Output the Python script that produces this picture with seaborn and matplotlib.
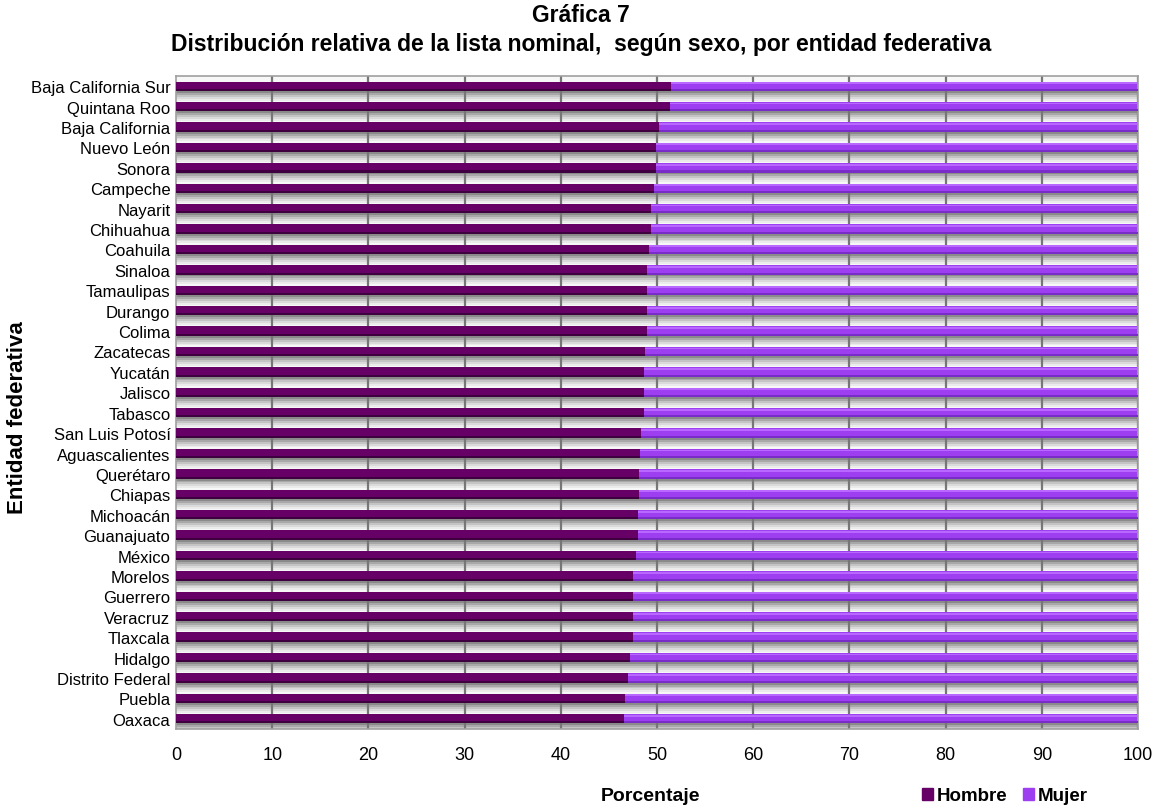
import numpy as np
import pandas as pd
import matplotlib
matplotlib.use("Agg")
import matplotlib.pyplot as plt
import seaborn as sns
from matplotlib.patches import Patch

# Data (percent of lista nominal)
entidades = [
    "Baja California Sur", "Quintana Roo", "Baja California", "Nuevo León",
    "Sonora", "Campeche", "Nayarit", "Chihuahua", "Coahuila", "Sinaloa",
    "Tamaulipas", "Durango", "Colima", "Zacatecas", "Yucatán", "Jalisco",
    "Tabasco", "San Luis Potosí", "Aguascalientes", "Querétaro", "Chiapas",
    "Michoacán", "Guanajuato", "México", "Morelos", "Guerrero", "Veracruz",
    "Tlaxcala", "Hidalgo", "Distrito Federal", "Puebla", "Oaxaca",
]
hombre = [
    51.5, 51.4, 50.2, 49.9, 49.9, 49.7, 49.4, 49.4, 49.2, 49.0,
    49.0, 49.0, 49.0, 48.8, 48.7, 48.7, 48.6, 48.3, 48.2, 48.1,
    48.1, 48.0, 48.0, 47.8, 47.5, 47.5, 47.5, 47.5, 47.2, 47.0,
    46.7, 46.6,
]
mujer = [round(100 - h, 1) for h in hombre]

color_hombre = "#660066"
color_mujer = "#9d3ff0"

df = pd.DataFrame({"Entidad": entidades, "Hombre": hombre, "Mujer": mujer})
df["Total"] = df["Hombre"] + df["Mujer"]

sns.set_theme(style="white")
plt.rcParams["font.family"] = ["Liberation Sans", "DejaVu Sans"]
plt.rcParams["text.color"] = "black"
plt.rcParams["xtick.color"] = "black"
plt.rcParams["ytick.color"] = "black"

fig = plt.figure(figsize=(11.62, 8.12), dpi=100)
ax = fig.add_axes([176 / 1162, 1 - 730 / 812, (1138 - 176) / 1162, (730 - 77) / 812])
ax.set_facecolor("#f7f7f7")

pos = np.arange(len(entidades))
bar_h = 0.46

# shadow band under each bar (3d effect of the original)
shades = ["#8a8a8a", "#a8a8a8", "#c4c4c4", "#dadada", "#ebebeb"]
step = 0.095
for i, c in enumerate(shades):
    ax.barh(pos + bar_h / 2 + step * (i + 0.5), df["Total"], height=step,
            color=c, zorder=1, linewidth=0)

# vertical gridlines
for v in range(10, 101, 10):
    ax.axvline(v, color="#767676", lw=1.6, zorder=1.5)

# stacked bars: total (Mujer on top of Hombre) then Hombre
sns.barplot(data=df, x="Total", y="Entidad", orient="h", color=color_mujer,
            width=bar_h, saturation=1, linewidth=0, ax=ax, zorder=2)
sns.barplot(data=df, x="Hombre", y="Entidad", orient="h", color=color_hombre,
            width=bar_h, saturation=1, linewidth=0, ax=ax, zorder=3)

# light top highlight / dark bottom edge on the bars
ax.barh(pos - bar_h / 2 + 0.08, df["Total"] - df["Hombre"], left=df["Hombre"],
        height=0.09, color="#b868ff", zorder=4, linewidth=0)
ax.barh(pos + bar_h / 2 - 0.05, df["Total"] - df["Hombre"], left=df["Hombre"],
        height=0.1, color="#7a2cc8", zorder=4, linewidth=0)
ax.barh(pos + bar_h / 2 - 0.05, df["Hombre"], height=0.1,
        color="#3e003e", zorder=4, linewidth=0)

ax.set_xlim(0, 100)
ax.set_ylim(len(entidades) - 0.5, -0.5)
ax.set_xticks(range(0, 101, 10))
ax.tick_params(axis="x", labelsize=13, pad=12, length=0)
ax.tick_params(axis="y", labelsize=12, pad=4, length=0)
ax.set_xlabel("")
ax.set_ylabel("")
for s in ax.spines.values():
    s.set_color("#a0a0a0")
    s.set_linewidth(1.2)

fig.text(650 / 1162, 1 - 797 / 812, "Porcentaje", ha="center", va="center",
         fontsize=14, fontweight="bold")
fig.text(18 / 1162, 1 - 418 / 812, "Entidad federativa", ha="center", va="center",
         rotation=90, fontsize=16, fontweight="bold")

fig.text(0.5, 1 - 16 / 812, "Gráfica 7", ha="center", va="center",
         fontsize=16.5, fontweight="bold")
fig.text(0.5, 1 - 44 / 812,
         "Distribución relativa de la lista nominal,  según sexo, por entidad federativa",
         ha="center", va="center", fontsize=16.5, fontweight="bold")

handles = [Patch(color=color_hombre, label="Hombre"), Patch(color=color_mujer, label="Mujer")]
fig.legend(handles=handles, loc="center", bbox_to_anchor=(1005 / 1162, 1 - 797 / 812),
           ncol=2, frameon=False, prop={"weight": "bold", "size": 13.5},
           handlelength=0.6, handleheight=0.6, handletextpad=0.2, columnspacing=0.8)

fig.savefig("out.png", dpi=100)
